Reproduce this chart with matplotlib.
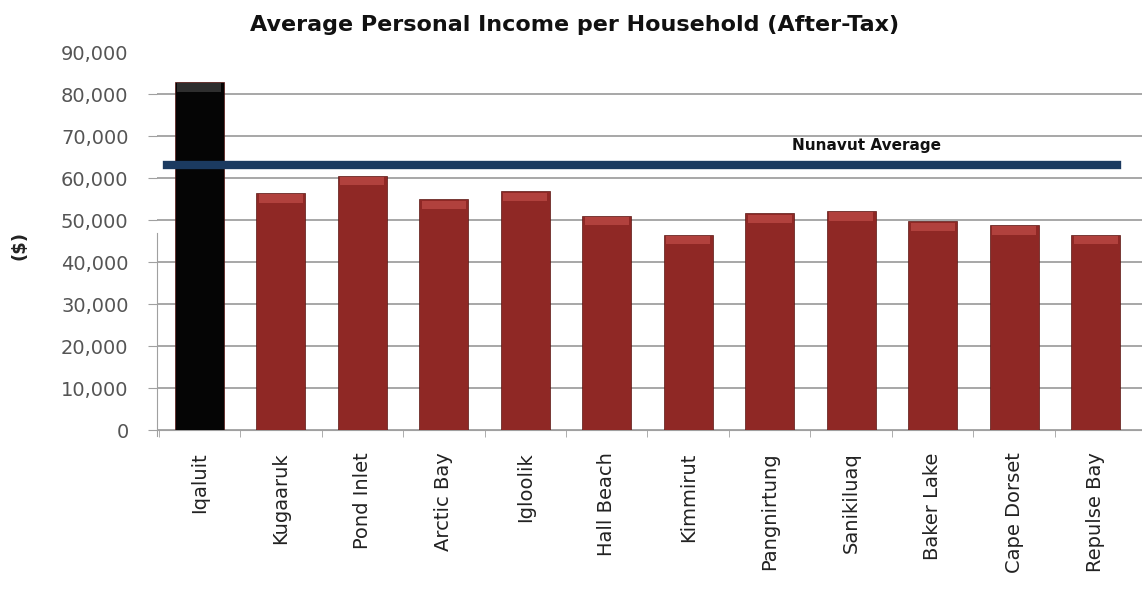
import matplotlib.pyplot as plt
import numpy as np

communities = ['Iqaluit', 'Kugaaruk', 'Pond Inlet', 'Arctic Bay', 'Igloolik', 'Hall Beach',
               'Kimmirut', 'Pangnirtung', 'Sanikiluaq', 'Baker Lake', 'Cape Dorset', 'Repulse Bay']
income = [82900, 56400, 60600, 54900, 56800, 51000, 46500, 51600, 52100, 49700, 48800, 46500]
nunavut_avg = 63200
yticks = np.arange(0, 90001, 10000)

fig = plt.figure(figsize=(11.42, 5.92), dpi=100)
ax = fig.add_axes([0.1375, 0.2736, 0.8625, 0.6385])

x = np.arange(len(communities))
colors = ['#050505'] + ['#8f2825'] * (len(communities) - 1)
tops = ['#4a4a4a'] + ['#c9534e'] * (len(communities) - 1)
bars = ax.bar(x, income, width=0.6, color=colors, edgecolor='#5a1512', linewidth=0.5, zorder=3)
# lighter bevel strip on top of each bar
band = 2000
ax.bar(x, [band] * len(x), bottom=np.array(income) - band - 300, width=0.54,
       color=tops, alpha=0.6, linewidth=0, zorder=4)

# average line
ax.axhline(nunavut_avg, xmin=0.01, xmax=0.975, color='#1b3a60', linewidth=6, zorder=5)
ax.text(0.72, nunavut_avg + 2800, 'Nunavut Average', transform=ax.get_yaxis_transform(),
        ha='center', va='bottom', fontsize=11, fontweight='bold', color='#111111')

ax.set_xlim(-0.52, 11.57)
ax.set_ylim(0, 90000)
ax.set_yticks(yticks)
ax.set_yticklabels(['{:,}'.format(v) for v in yticks])
ax.yaxis.grid(True, color='#a0a0a0', linewidth=1.3, zorder=0)
ax.set_axisbelow(True)
ax.yaxis.get_gridlines()[-1].set_visible(False)
ax.tick_params(axis='y', length=6.5, color='#a0a0a0', pad=14, labelsize=14, labelcolor='#555555')
ax.yaxis.get_ticklines()[-2].set_visible(False)

ax.set_xticks(x)
ax.set_xticklabels(communities, rotation=90, va='top', ha='center', fontsize=14, color='#222222')
ax.tick_params(axis='x', length=0, pad=16)
ax.set_xticks(np.arange(len(communities)) - 0.5, minor=True)
ax.tick_params(axis='x', which='minor', length=5, color='#a0a0a0')

for s in ['top', 'right']:
    ax.spines[s].set_visible(False)
ax.spines['bottom'].set_color('#a0a0a0')
ax.spines['left'].set_color('#a0a0a0')
ax.spines['left'].set_bounds(-1500, 47000)

fig.text(0.503, 0.958, 'Average Personal Income per Household (After-Tax)', ha='center', va='center',
         fontsize=16, fontweight='bold', color='#111111')
fig.text(20 / 1142, 1 - 245 / 592, '($)', rotation=90, ha='center', va='center',
         fontsize=13, fontweight='bold', color='#222222')

fig.savefig('out.png', dpi=100)
